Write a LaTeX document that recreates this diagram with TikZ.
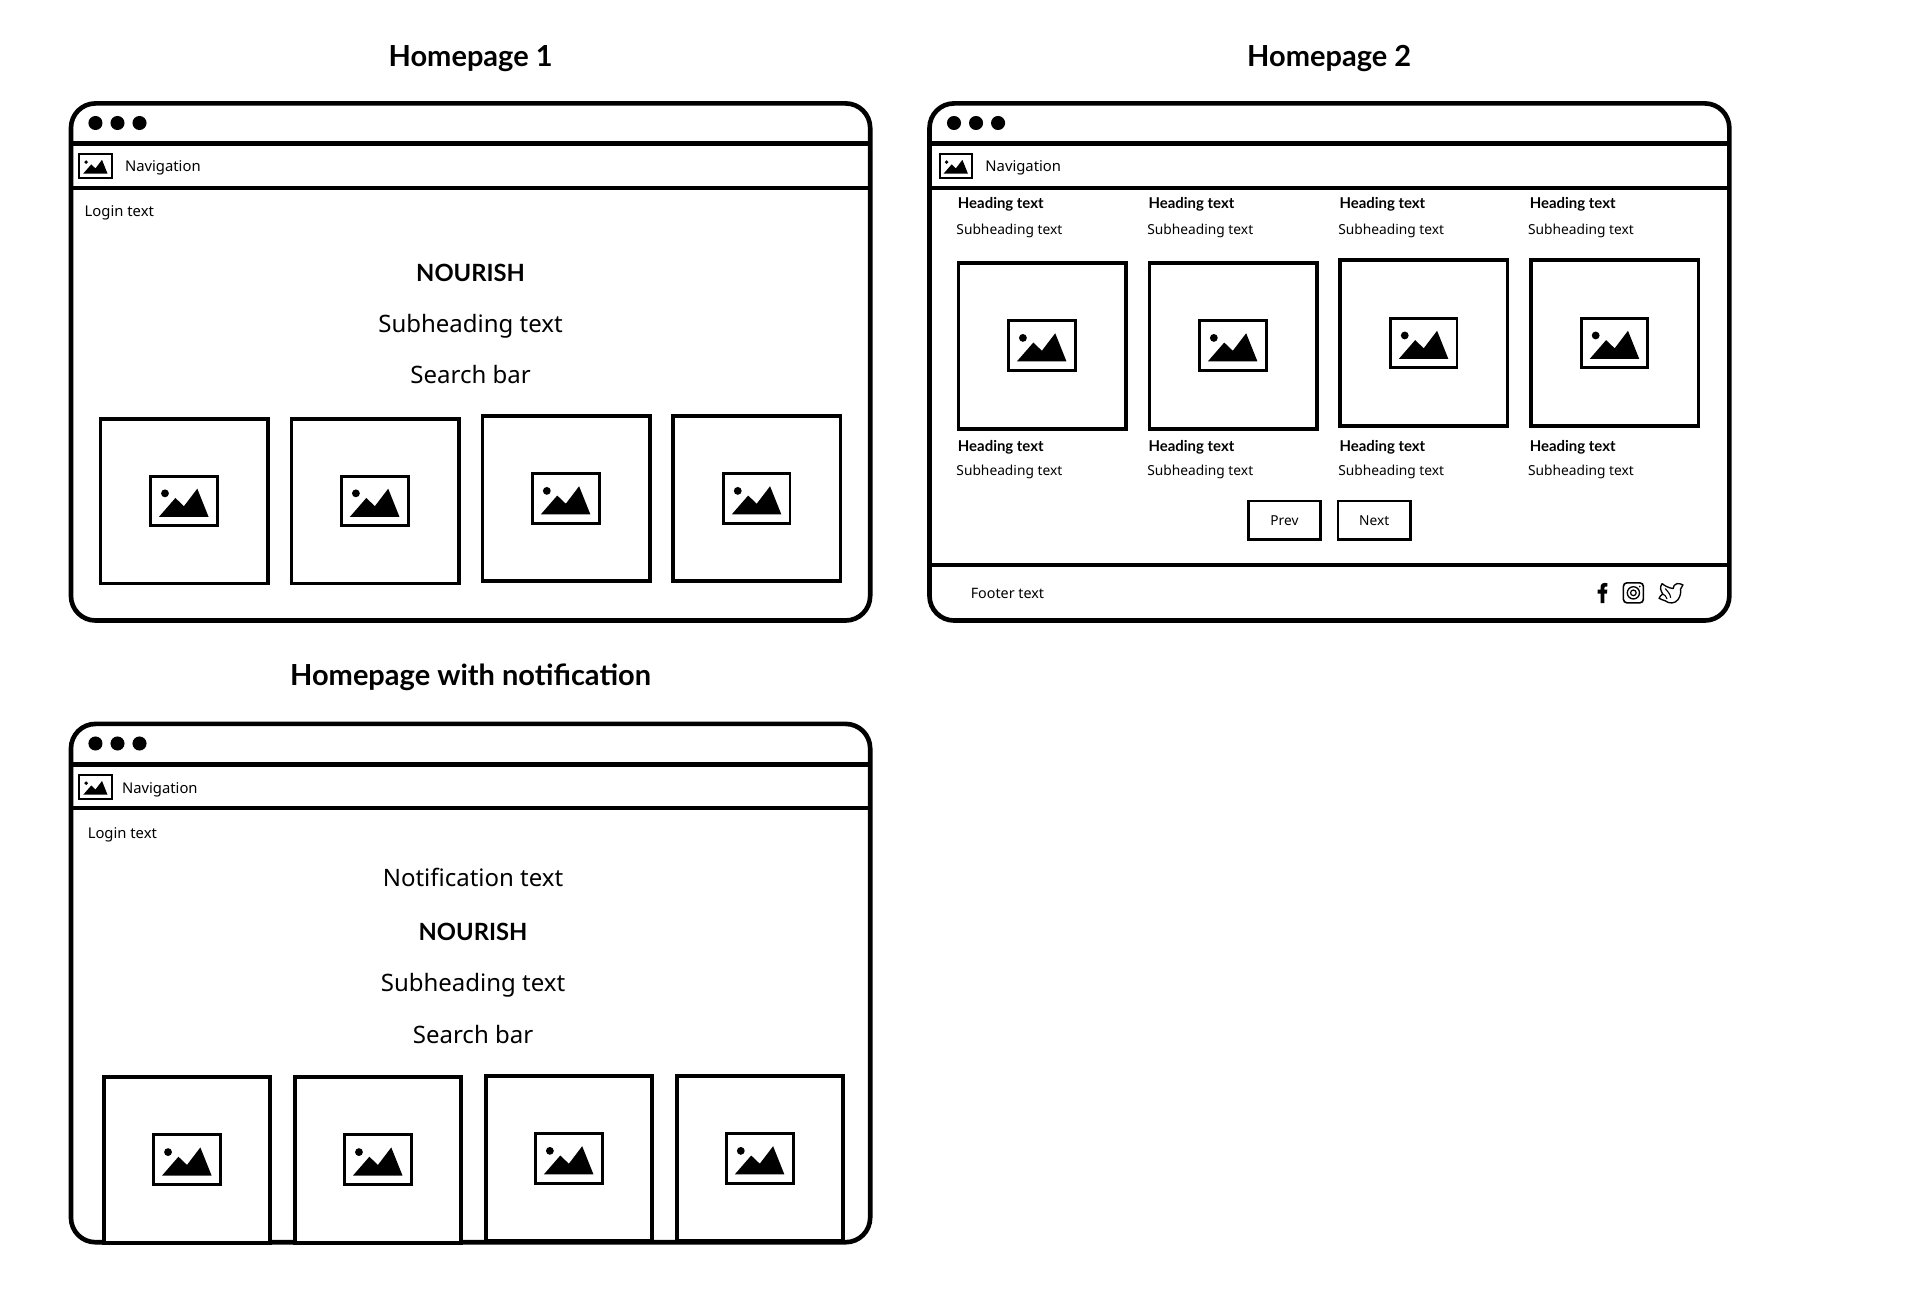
\documentclass[tikz,border=0pt]{standalone}
\usepackage{fontspec}
\setmainfont{Noto Sans}
\newfontfamily\boldface{Lato}[UprightFont=* Bold]
\tikzset{
  x=1pt,y=-1pt,
  frame/.style={draw=black,line width=3.8pt,rounded corners=20pt},
  barthick/.style={draw=black,line width=4.3pt},
  barthin/.style={draw=black,line width=3.1pt},
  winbtn/.style={fill=black,circle,inner sep=0pt,minimum size=11.5pt},
  imgbox/.style={draw=black,fill=white,line width=3.1pt},
  lbl/.style={inner sep=0pt,anchor=west,font=\fontsize{12.1pt}{14pt}\selectfont},
  foottxt/.style={inner sep=0pt,anchor=west,font=\fontsize{11.7pt}{14pt}\selectfont},
  big/.style={inner sep=0pt,font=\fontsize{19.6pt}{24pt}\selectfont},
  bigb/.style={inner sep=0pt,font=\boldface\fontsize{19.4pt}{24pt}\selectfont},
  titlef/.style={inner sep=0pt,font=\boldface\fontsize{23.7pt}{28pt}\selectfont},
  hd/.style={inner sep=0pt,anchor=west,font=\boldface\fontsize{12.2pt}{14pt}\selectfont},
  sh/.style={inner sep=0pt,anchor=west,font=\fontsize{11.25pt}{14pt}\selectfont},
  btn/.style={draw=black,line width=2pt,inner sep=0pt,text depth=0pt,font=\fontsize{11.2pt}{14pt}\selectfont},
}
% image icon: centre x, centre y, scale, border width
\newcommand{\imgicon}[4]{%
  \begin{scope}[shift={({#1},{#2})},scale=#3]
    \draw[line width=#4,fill=white] (-27.2,-20.2) rectangle (27.2,20.2);
    \fill (-20.4,13) -- (-7,-2.4) -- (0,4.3) -- (10.9,-10) -- (20.1,13) -- cycle;
    \fill (-15.5,-6.2) circle (3.2);
  \end{scope}}
\newcommand{\imgcard}[4]{%
  \draw[imgbox] (#1+1.2,#2+1.2) rectangle (#3-0.2,#4-0.2);
  \imgicon{(#1+#3)/2+0.3}{(#2+#4)/2+0.3}{1}{2.4pt}}
% browser window: left, top, right, bottom
\newcommand{\browser}[4]{%
  \draw[frame] (#1,#2) rectangle (#3,#4);
  \draw[barthick] (#1,#2+33) -- (#3,#2+33);
  \draw[barthin] (#1,#2+69) -- (#3,#2+69);
  \foreach \dx in {20,38,56}{\node[winbtn] at (#1+\dx,#2+16) {};}}
\begin{document}
\begin{tikzpicture}
\useasboundingbox (0,0) rectangle (1568.8,1062.2);
\fill[white] (0,0) rectangle (1568.8,1062.2);

% ---- Homepage 1
\node[titlef] (t1) at (384.5,48) {Homepage 1};
\browser{58}{84.5}{711}{507}
\imgicon{78}{135.5}{0.49}{1.6pt}
\node[lbl] (n1) at (102,137) {Navigation};
\node[lbl] (l1) at (69,174) {Login text};
\node[bigb] (h1) at (384.5,223) {NOURISH};
\node[big] (s1) at (384.5,266.5) {Subheading text};
\node[big] (b1) at (384.5,306) {Search bar};
\imgcard{81}{341}{219}{477}
\imgcard{237}{341}{375}{477}
\imgcard{393}{339}{531}{475}
\imgcard{549}{339}{687}{475}

% ---- Homepage 2
\node[titlef] (t2) at (1086,48) {Homepage 2};
\browser{759.5}{84.5}{1413}{507}
\draw[barthin] (759.5,461.5) -- (1413,461.5);
\imgicon{781}{135.5}{0.49}{1.6pt}
\node[lbl] (n2) at (805,137) {Navigation};
\node[hd] (a1) at (782.5,167) {Heading text};
\node[hd] (a2) at (938.3,167) {Heading text};
\node[hd] (a3) at (1094.3,167) {Heading text};
\node[hd] (a4) at (1249.8,167) {Heading text};
\node[sh] (b1x) at (781.3,188.5) {Subheading text};
\node[sh] (b2x) at (937.3,188.5) {Subheading text};
\node[sh] (b3x) at (1093.3,188.5) {Subheading text};
\node[sh] (b4x) at (1248.3,188.5) {Subheading text};
\imgcard{782}{213.5}{920}{350.5}
\imgcard{938}{213.5}{1076}{350.5}
\imgcard{1094}{211.5}{1232}{348.5}
\imgcard{1250}{211.5}{1388}{348.5}
\node[hd] (c1) at (782.5,365.5) {Heading text};
\node[hd] (c2) at (938.3,365.5) {Heading text};
\node[hd] (c3) at (1094.3,365.5) {Heading text};
\node[hd] (c4) at (1249.8,365.5) {Heading text};
\node[sh] (d1) at (781.3,386) {Subheading text};
\node[sh] (d2) at (937.3,386) {Subheading text};
\node[sh] (d3) at (1093.3,386) {Subheading text};
\node[sh] (d4) at (1248.3,386) {Subheading text};
\node[btn,minimum width=59pt,minimum height=31.5pt] (prev) at (1049.5,425) {Prev};
\node[btn,minimum width=59pt,minimum height=31.5pt] (next) at (1122.8,425) {Next};
\node[foottxt] (foot) at (793,485) {Footer text};
% facebook
\begin{scope}[shift={(0.6,0.4)}]
\fill (1307.2,492.5) -- (1307.2,484.6) -- (1304.8,484.6) -- (1304.8,481.4) -- (1307.2,481.4) -- (1307.2,479.4)
  .. controls (1307.2,476.6) and (1309,475.5) .. (1312.8,476) -- (1312.8,478.8)
  .. controls (1310.8,478.6) and (1310.3,479) .. (1310.3,480) -- (1310.3,481.4) -- (1312.7,481.4) -- (1312.4,484.6) -- (1310.3,484.6) -- (1310.3,492.5) -- cycle;
% instagram
\draw[line width=1.3pt,rounded corners=3pt] (1325.8,475.8) rectangle (1342.2,492.2);
\draw[line width=1.1pt] (1334,484) circle (5);
\draw[line width=1pt] (1334,484) circle (2.3);
\fill (1339.2,478.8) circle (0.8);
% twitter
\draw[line width=1.1pt,line join=round] (1374.5,477.5) .. controls (1372.5,476.5) and (1371,476.2) .. (1369.5,476.5)
  .. controls (1367.5,477) and (1366.8,478.5) .. (1366.5,480.5)
  .. controls (1363,480) and (1360,478.5) .. (1357.5,476.5)
  .. controls (1355.5,479) and (1356,482) .. (1358,485)
  .. controls (1356.5,486) and (1355.5,487) .. (1355,488.5)
  .. controls (1357,489.5) and (1358.5,490) .. (1360,490.5)
  .. controls (1363,493) and (1368,493) .. (1370.5,489.5)
  .. controls (1372.5,486.5) and (1373,483.5) .. (1372.5,481)
  .. controls (1373.5,480) and (1374.2,479) .. (1374.5,477.5) -- cycle;
\draw[line width=0.9pt] (1360,480.5) .. controls (1362,483) and (1364,484.5) .. (1364.5,488);
\draw[line width=0.9pt] (1358,485) .. controls (1359.5,486) and (1361,486.5) .. (1361.5,489);
\end{scope}

% ---- Homepage with notification
\node[titlef] (t3) at (384.5,553.5) {Homepage with notification};
\browser{58}{591.5}{711}{1015}
\imgicon{78}{643}{0.49}{1.6pt}
\node[lbl] (n3) at (99.5,645) {Navigation};
\node[lbl] (l3) at (71.5,682) {Login text};
\node[big] (nt) at (386.5,717) {Notification text};
\node[bigb] (h3) at (386.5,761.5) {NOURISH};
\node[big] (s3) at (386.5,805) {Subheading text};
\node[big] (b3) at (386.5,845) {Search bar};
\imgcard{84}{879}{221}{1015.5}
\imgcard{240}{879}{377}{1015.5}
\imgcard{396}{878}{533}{1014.5}
\imgcard{552}{878}{689}{1014.5}
\end{tikzpicture}
\end{document}
